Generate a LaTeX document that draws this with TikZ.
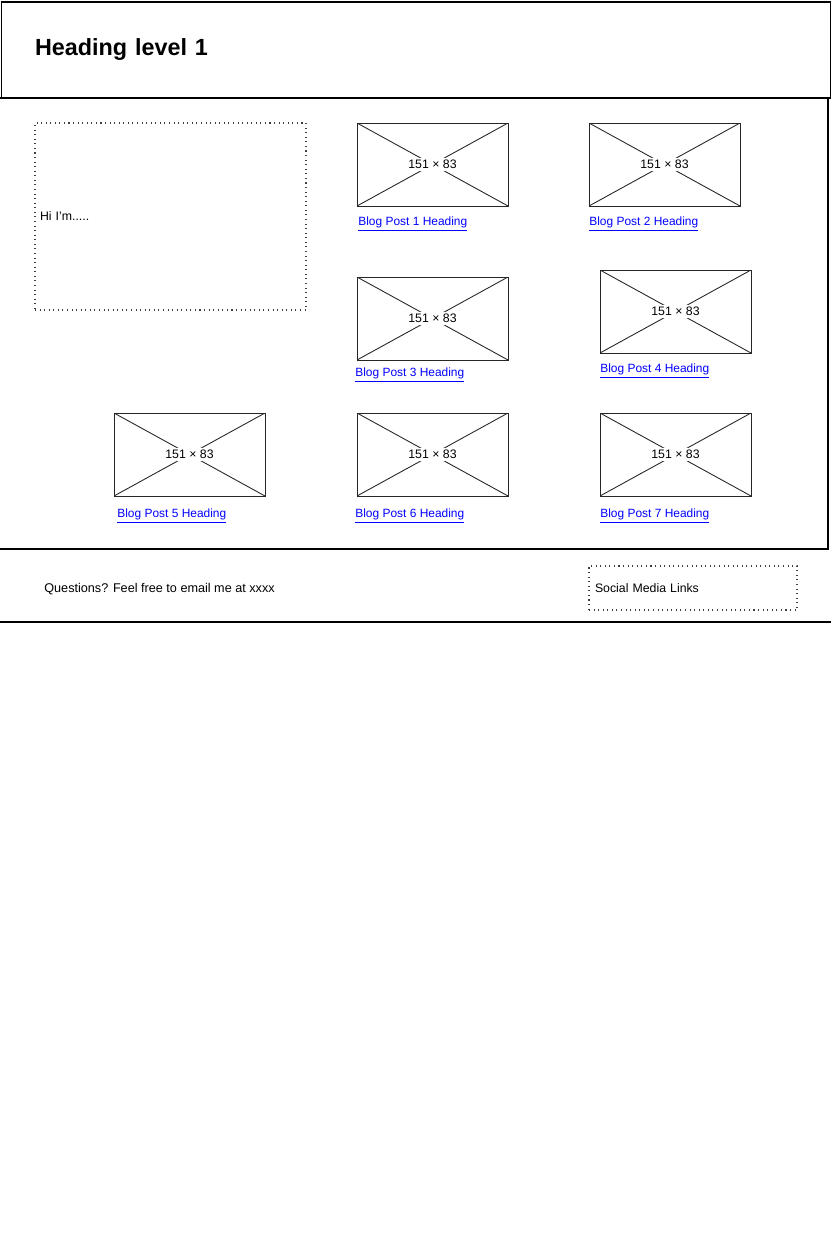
\documentclass[tikz,border=0pt]{standalone}
\usepackage{fontspec}
\setmainfont{Liberation Sans}
\usepackage{tikz}

\begin{document}
\begin{tikzpicture}[x=0.02cm, y=-0.02cm,
  imgbox/.style={draw=black!85, line width=0.5pt, minimum width=3.02cm, minimum height=1.66cm, inner sep=0pt,
    path picture={\draw[line width=0.5pt] (path picture bounding box.north west) -- (path picture bounding box.south east)
      (path picture bounding box.south west) -- (path picture bounding box.north east);},
    label={[fill=white, inner sep=1.5pt, font=\fontsize{7}{8}\selectfont]center:151 × 83}},
  postlink/.style={anchor=west, text=blue, font=\fontsize{6.8}{8}\selectfont, inner sep=0pt},
  dotbox/.style={draw=black!75, dotted, line width=0.6pt, align=left, font=\fontsize{7}{8}\selectfont}]
\useasboundingbox (0,0) rectangle (831,1238);

% Kopfzeile
\node[draw, line width=0.6pt, minimum width=16.6cm, minimum height=1.92cm, inner xsep=0.68cm, text width=15.24cm,
  align=left, font=\fontsize{13.3}{15}\selectfont\bfseries] (head) at (416,50) {Heading level 1};

% Hauptbereich
\draw[line width=1pt] (0,98) -- (828,98) -- (828,549) -- (0,549);
\node[dotbox, minimum width=5.42cm, minimum height=3.74cm, inner sep=0.1cm, text width=5.22cm] (about) at (170.5,216.5) {Hi I'm.....};

\node[imgbox] (img1) at (432.5,164.5) {};
\node[imgbox] (img2) at (664.5,164.5) {};
\node[imgbox] (img3) at (432.5,318.5) {};
\node[imgbox] (img4) at (675.5,311.5) {};
\node[imgbox] (img5) at (189.5,454.5) {};
\node[imgbox] (img6) at (432.5,454.5) {};
\node[imgbox] (img7) at (675.5,454.5) {};

\node[postlink] (post1) at (358,224) {\underline{Blog Post 1 Heading}};
\node[postlink] (post2) at (589,224) {\underline{Blog Post 2 Heading}};
\node[postlink] (post3) at (355,375) {\underline{Blog Post 3 Heading}};
\node[postlink] (post4) at (600,371) {\underline{Blog Post 4 Heading}};
\node[postlink] (post5) at (117,516) {\underline{Blog Post 5 Heading}};
\node[postlink] (post6) at (355,516) {\underline{Blog Post 6 Heading}};
\node[postlink] (post7) at (600,516) {\underline{Blog Post 7 Heading}};

% Fusszeile
\node[anchor=west, inner sep=0pt, font=\fontsize{7.2}{8}\selectfont] (ask) at (44,589) {Questions? Feel free to email me at xxxx};
\node[dotbox, minimum width=4.16cm, minimum height=0.88cm, inner sep=0.12cm, text width=3.92cm] (social) at (693,588) {Social Media Links};
\draw[line width=0.6pt] (0,622) -- (831,622);
\end{tikzpicture}
\end{document}
